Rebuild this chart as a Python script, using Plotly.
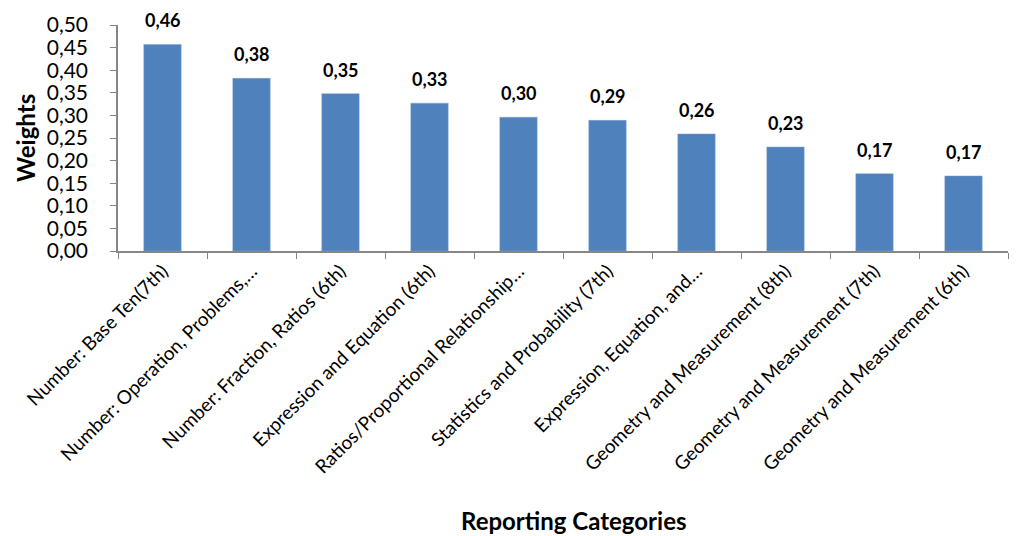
import plotly.graph_objects as go

categories = [
    "Number: Base Ten(7th)",
    "Number: Operation, Problems,…",
    "Number: Fraction, Ratios (6th)",
    "Expression and Equation (6th)",
    "Ratios/Proportional Relationship…",
    "Statistics and Probability (7th)",
    "Expression, Equation, and…",
    "Geometry and Measurement (8th)",
    "Geometry and Measurement (7th)",
    "Geometry and Measurement (6th)",
]
weights = [0.457, 0.382, 0.348, 0.327, 0.296, 0.289, 0.259, 0.230, 0.171, 0.166]
y_ticks = [0.00, 0.05, 0.10, 0.15, 0.20, 0.25, 0.30, 0.35, 0.40, 0.45, 0.50]

FONT = "Lato"
AXIS_COLOR = "#868686"

fig = go.Figure()
fig.add_trace(go.Bar(
    x=categories,
    y=weights,
    marker=dict(color="#4F81BD", line=dict(color="#7FA3D0", width=0.5)),
    hoverinfo="x+y",
))

for c, v in zip(categories, weights):
    fig.add_annotation(
        x=c, y=v, xref="x", yref="y",
        text="<b>" + f"{v:.2f}".replace(".", ",") + "</b>",
        showarrow=False, yanchor="bottom", yshift=11,
        font=dict(family=FONT, size=18, color="black"),
    )

fig.add_annotation(
    x=(25 - 118) / 890, y=0.5, xref="paper", yref="paper",
    text="<b>Weights</b>", textangle=-90, showarrow=False,
    xanchor="center", yanchor="middle",
    font=dict(family=FONT, size=24, color="black"),
)
fig.add_annotation(
    x=(574 - 118) / 890, y=-(520 - 251) / 226, xref="paper", yref="paper",
    text="<b>Reporting Categories</b>", showarrow=False,
    xanchor="center", yanchor="middle",
    font=dict(family=FONT, size=24, color="black"),
)

fig.update_layout(
    width=1022, height=536,
    margin=dict(l=118, r=14, t=25, b=285),
    paper_bgcolor="white", plot_bgcolor="white",
    separators=",.",
    bargap=0.58,
    showlegend=False,
    font=dict(family=FONT, color="black"),
)
fig.update_xaxes(
    type="category",
    tickangle=-45,
    tickfont=dict(family=FONT, size=19, color="black"),
    showline=True, linecolor=AXIS_COLOR, linewidth=1.5,
    ticks="outside", tickson="boundaries", ticklen=6, tickcolor=AXIS_COLOR,
    showgrid=False,
)
fig.update_yaxes(
    range=[0, 0.5],
    tickvals=y_ticks,
    tickformat=".2f",
    tickfont=dict(family=FONT, size=21, color="black"),
    showline=True, linecolor=AXIS_COLOR, linewidth=1.5,
    ticks="outside", ticklen=6, tickcolor=AXIS_COLOR,
    ticklabelstandoff=18,
    showgrid=False, zeroline=False,
)

fig.write_html("out.html")
